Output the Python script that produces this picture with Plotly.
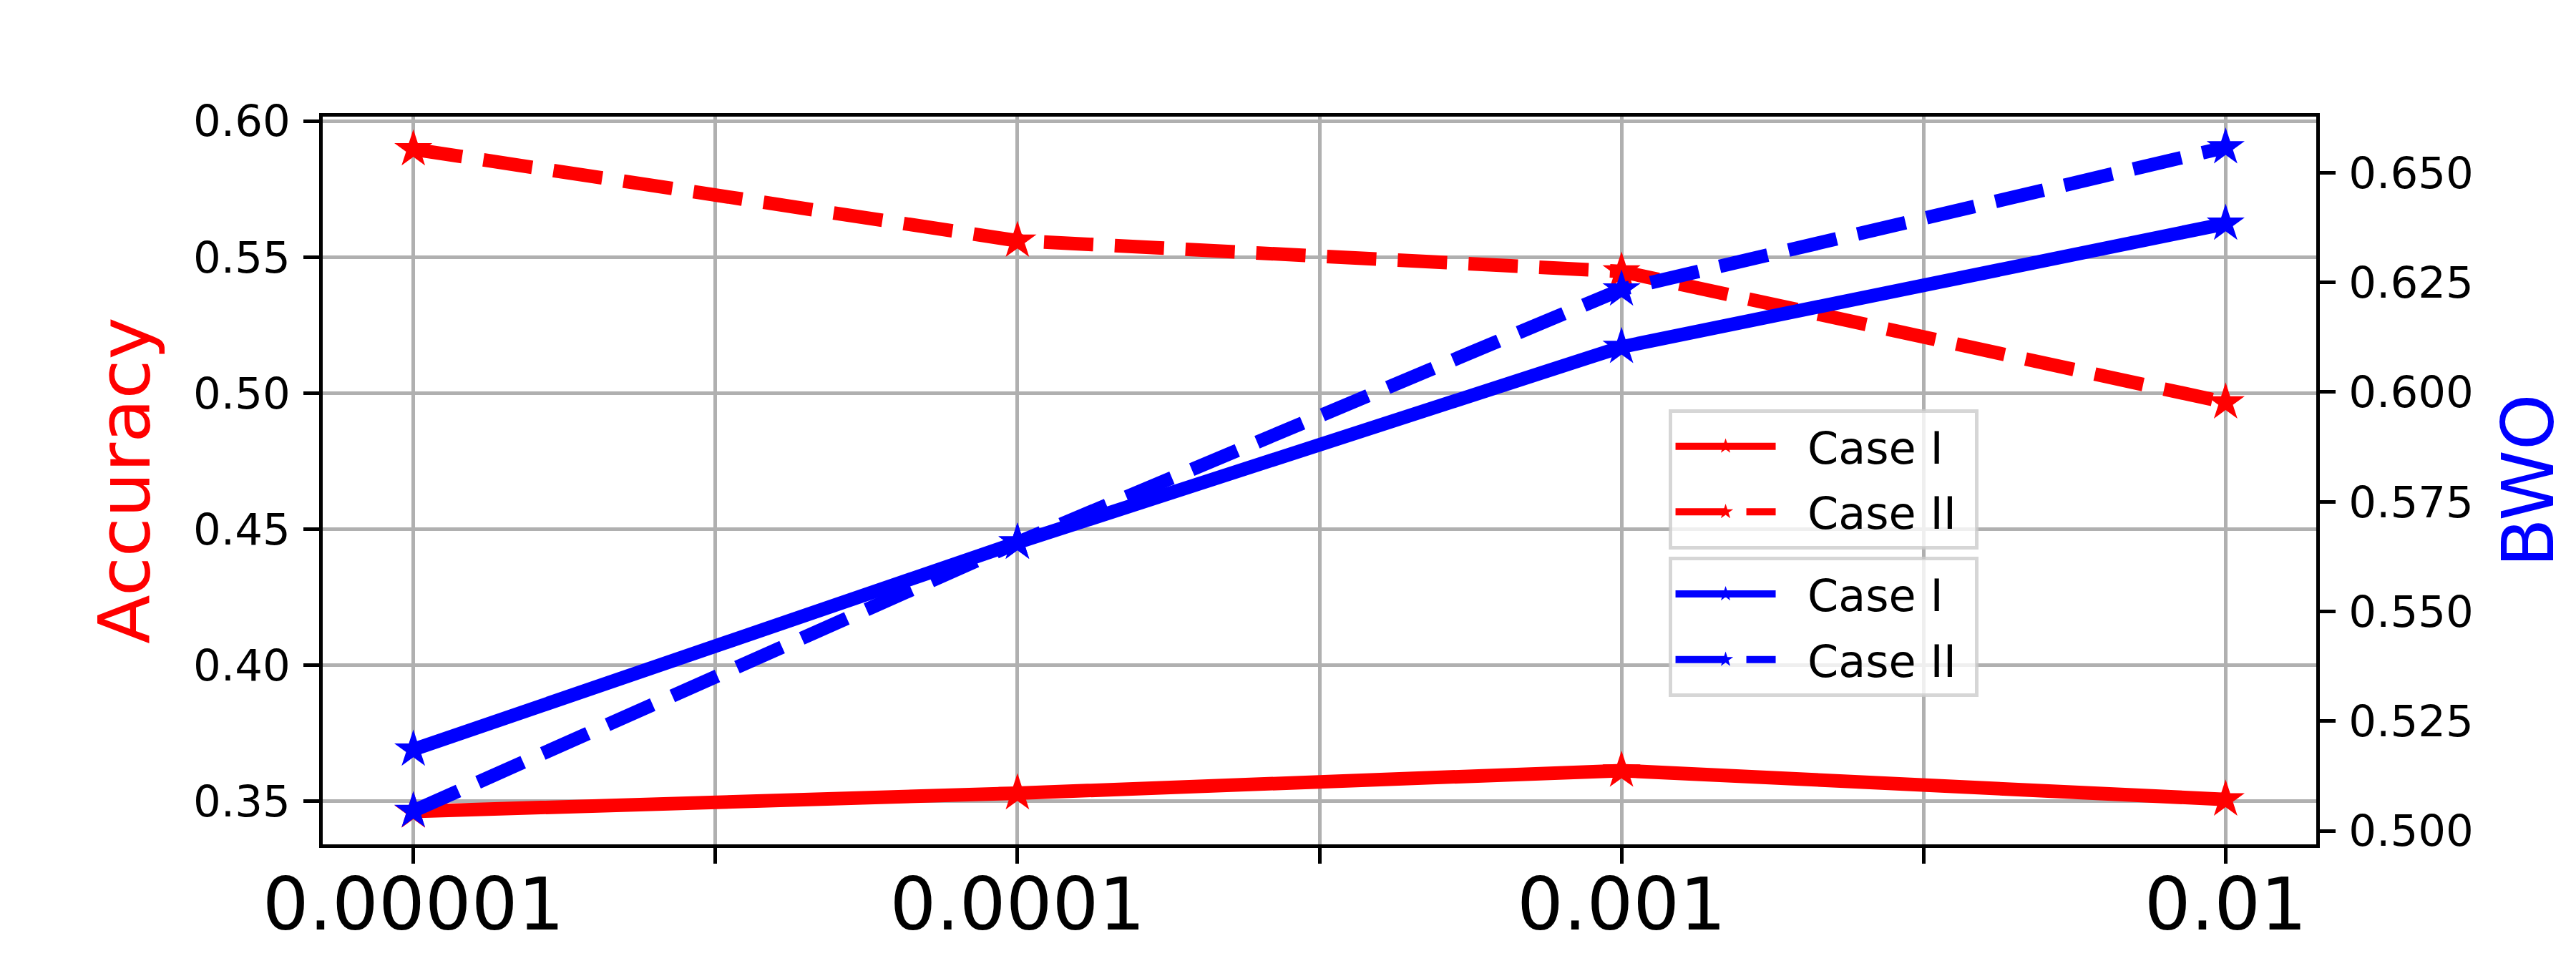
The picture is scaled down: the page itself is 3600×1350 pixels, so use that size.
import plotly.graph_objects as go

# ---- data ----
x_values = [1e-5, 1e-4, 1e-3, 1e-2]
x_tick_vals = [1e-5, 10**-4.5, 1e-4, 10**-3.5, 1e-3, 10**-2.5, 1e-2]
x_tick_text = ["0.00001", "", "0.0001", "", "0.001", "", "0.01"]

acc_case1 = [0.3463, 0.3530, 0.3613, 0.3507]
acc_case2 = [0.5896, 0.5560, 0.5447, 0.4966]
bwo_case1 = [0.5185, 0.5657, 0.6103, 0.6384]
bwo_case2 = [0.5045, 0.5657, 0.6234, 0.6558]

left_ticks = [0.35, 0.40, 0.45, 0.50, 0.55, 0.60]
left_tick_text = ["0.35", "0.40", "0.45", "0.50", "0.55", "0.60"]
right_ticks = [0.500, 0.525, 0.550, 0.575, 0.600, 0.625, 0.650]
right_tick_text = ["0.500", "0.525", "0.550", "0.575", "0.600", "0.625", "0.650"]

series_names = ["Case I", "Case II"]

FONT = "DejaVu Sans"
LW = 19
MS = 40
DASH = "69px,30px"
PAD = "\u00a0\u00a0"

fig = go.Figure()

def add(yvals, name, color, dash, yaxis, legend, group):
    fig.add_trace(go.Scatter(
        x=x_values, y=yvals, name=PAD + name + "\u00a0", mode="lines+markers",
        line=dict(color=color, width=LW, dash=dash),
        marker=dict(symbol="star", size=MS, color=color, line=dict(width=0)),
        yaxis=yaxis, legend=legend, legendgroup=group))

add(acc_case1, series_names[0], "red", "solid", "y", "legend", "a1")
add(acc_case2, series_names[1], "red", DASH, "y", "legend", "a2")
add(bwo_case1, series_names[0], "blue", "solid", "y2", "legend2", "b1")
add(bwo_case2, series_names[1], "blue", DASH, "y2", "legend2", "b2")

legend_common = dict(
    bgcolor="rgba(255,255,255,0.8)",
    bordercolor="rgba(204,204,204,0.8)",
    borderwidth=5,
    font=dict(family=FONT, size=62, color="black"),
    xanchor="left", yanchor="top",
    itemwidth=140,
    tracegroupgap=8,
    itemsizing="trace",
)

fig.update_layout(
    template="none",
    width=3600, height=1350,
    margin=dict(l=451, r=363, t=163, b=170, autoexpand=False),
    paper_bgcolor="white", plot_bgcolor="white",
    font=dict(family=FONT, color="black"),
    legend=dict(x=0.675, y=0.598, **legend_common),
    legend2=dict(x=0.675, y=0.395, **legend_common),
    xaxis=dict(
        type="log", range=[-5.15, -1.85], automargin=False,
        tickmode="array", tickvals=x_tick_vals, ticktext=x_tick_text,
        ticks="outside", ticklen=22, tickwidth=5, tickcolor="black",
        tickfont=dict(family=FONT, size=102, color="black"),
        ticklabelstandoff=-30,
        showline=True, linecolor="black", linewidth=5, mirror=True,
        showgrid=True, gridcolor="#b0b0b0", gridwidth=5,
        zeroline=False,
    ),
    yaxis=dict(
        range=[0.3342, 0.6016], automargin=False,
        tickmode="array", tickvals=left_ticks, ticktext=left_tick_text,
        ticks="outside", ticklen=22, tickwidth=5, tickcolor="black",
        tickfont=dict(family=FONT, size=61, color="black"),
        ticklabelstandoff=6,
        showline=True, linecolor="black", linewidth=5,
        showgrid=True, gridcolor="#b0b0b0", gridwidth=5,
        zeroline=False,
        title=dict(text="Accuracy", font=dict(family=FONT, size=100, color="red"), standoff=28),
    ),
    yaxis2=dict(
        range=[0.4969, 0.6628], overlaying="y", side="right", automargin=False,
        tickmode="array", tickvals=right_ticks, ticktext=right_tick_text,
        ticks="outside", ticklen=22, tickwidth=5, tickcolor="black",
        tickfont=dict(family=FONT, size=61, color="black"),
        ticklabelstandoff=6,
        showline=True, linecolor="black", linewidth=5,
        showgrid=False, zeroline=False,
        title=dict(text="BWO", font=dict(family=FONT, size=100, color="blue"), standoff=44),
    ),
)

fig.write_html("out.html")
